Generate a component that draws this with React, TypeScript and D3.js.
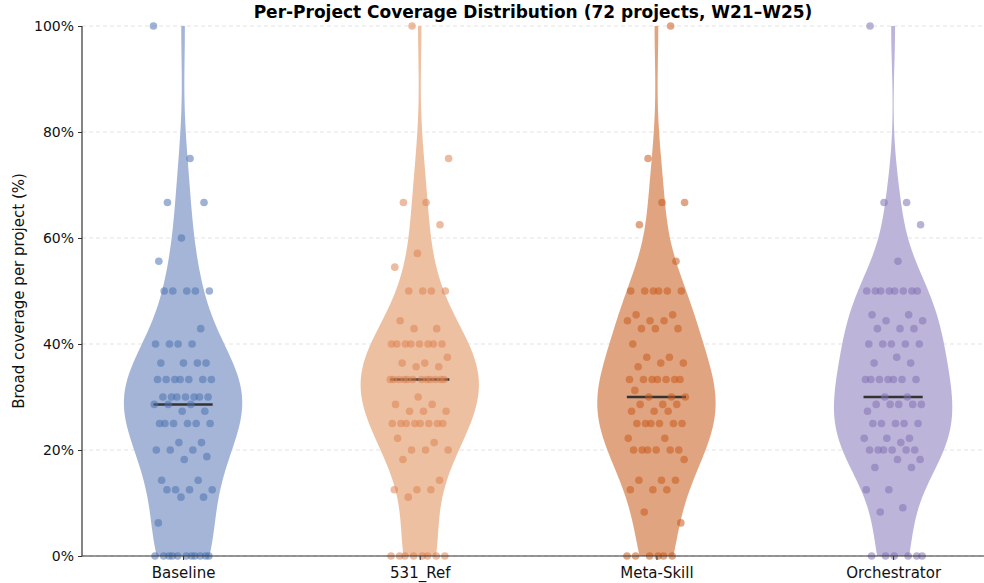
import { useRef, useEffect } from 'react';
import * as d3 from 'd3';

// per-project broad coverage (%)
const baseline = [
  100, 75, 66.7, 66.7, 60, 55.6, 50, 50, 50, 50, 50, 42.9, 40, 40, 40, 40,
  36.4, 36.4, 36.4, 36.4, 33.3, 33.3, 33.3, 33.3, 33.3, 33.3, 33.3,
  30, 30, 30, 30, 30, 30, 30, 28.6, 28.6, 28.6, 27.3, 27.3,
  25, 25, 25, 25, 25, 25, 21.4, 21.4, 20, 20, 20, 18.75, 18.2, 14.3, 14.3,
  12.5, 12.5, 12.5, 12.5, 11.1, 11.1, 6.25,
  0, 0, 0, 0, 0, 0, 0, 0, 0, 0, 0,
];
const ref531 = [
  100, 75, 66.7, 66.7, 62.5, 57.1, 54.5, 50, 50, 50, 50, 44.4, 42.9, 42.9,
  40, 40, 40, 40, 40, 40, 40, 40, 37.5, 36.4, 36.4, 35.7, 35.7,
  33.3, 33.3, 33.3, 33.3, 33.3, 33.3, 33.3, 33.3, 33.3, 33.3, 33.3, 33.3,
  30, 28.6, 28.6, 27.3, 27.3, 27.3, 25, 25, 25, 25, 25, 25, 25, 25,
  22.2, 21.4, 20, 20, 20, 18.2, 14.3, 12.5, 12.5, 12.5, 11.1,
  0, 0, 0, 0, 0, 0, 0, 0,
];
const metaSkill = [
  100, 75, 66.7, 66.7, 62.5, 55.6, 50, 50, 50, 50, 50, 50, 45.5, 45.5,
  44.4, 44.4, 44.4, 42.9, 42.9, 42.9, 40, 37.5, 37.5, 36.4, 36.4, 35.7,
  33.3, 33.3, 33.3, 33.3, 33.3, 33.3, 33.3, 31.25, 30, 30, 30,
  28.6, 28.6, 28.6, 27.3, 27.3, 27.3, 25, 25, 25, 25, 25, 25, 22.2, 22.2,
  20, 20, 20, 20, 20, 20, 18.2, 14.3, 14.3, 14.3, 12.5, 12.5, 12.5, 8.3, 6.25,
  0, 0, 0, 0, 0, 0,
];
const orchestrator = [
  100, 66.7, 66.7, 62.5, 55.6, 50, 50, 50, 50, 50, 50, 50, 50, 45.5, 45.5,
  44.4, 44.4, 42.9, 42.9, 42.9, 40, 40, 40, 40, 40, 37.5, 36.4, 36.4,
  33.3, 33.3, 33.3, 33.3, 33.3, 33.3, 33.3, 30, 30,
  28.6, 28.6, 28.6, 28.6, 28.6, 27.3, 25, 25, 25, 25, 25, 22.2, 22.2, 22.2,
  21.4, 20, 20, 20, 20, 20, 20, 18.2, 18.2, 16.7, 16.7, 12.5, 12.5, 9.1, 8.3,
  0, 0, 0, 0, 0, 0,
];

const categories = ['Baseline', '531_Ref', 'Meta-Skill', 'Orchestrator'];
const seriesValues = [baseline, ref531, metaSkill, orchestrator];
const yTicks = [0, 20, 40, 60, 80, 100];

const fillColors = ['#a4b5d7', '#eec0a2', '#e0a580', '#bdb4d9'];
const pointColors = ['#4c72b0', '#dd8452', '#c95b1d', '#8172b3'];

const W = 984;
const H = 583;
const margin = { top: 26, right: 0, bottom: 27, left: 82 };

// gaussian KDE with Scott's rule, like scipy
const kde = (vals: number[], pts: number[]) => {
  const n = vals.length;
  const mean = d3.mean(vals)!;
  const variance = d3.sum(vals, (v) => (v - mean) ** 2) / (n - 1);
  const bw = Math.sqrt(variance) * Math.pow(n, -1 / 5);
  return pts.map((p) => {
    let s = 0;
    for (const v of vals) s += Math.exp(-0.5 * ((p - v) / bw) ** 2);
    return s / (n * bw * Math.sqrt(2 * Math.PI));
  });
};

export default function App() {
  const svgRef = useRef<SVGSVGElement>(null);

  useEffect(() => {
    if (!svgRef.current) return;
    const svg = d3.select(svgRef.current);
    svg.selectAll('*').remove();

    const x = d3.scaleLinear().domain([-0.427, 3.384]).range([margin.left, W - margin.right]);
    const y = d3.scaleLinear().domain([0, 100]).range([H - margin.bottom, margin.top]);
    const font = 'DejaVu Sans, sans-serif';

    // grid
    svg.append('g')
      .selectAll('line')
      .data(yTicks)
      .join('line')
      .attr('x1', margin.left)
      .attr('x2', W - margin.right)
      .attr('y1', (d) => y(d))
      .attr('y2', (d) => y(d))
      .attr('stroke', '#dcdcdc')
      .attr('stroke-width', 0.8)
      .attr('stroke-dasharray', '4,3');

    seriesValues.forEach((vals, i) => {
      const lo = d3.min(vals)!;
      const hi = d3.max(vals)!;
      const grid = d3.range(100).map((k) => lo + ((hi - lo) * k) / 99);
      const dens = kde(vals, grid);
      const maxD = d3.max(dens)!;
      const half = dens.map((d) => (0.25 * d) / maxD);

      const area = d3.area<number>()
        .y((_, k) => y(grid[k]))
        .x0((_, k) => x(i - half[k]))
        .x1((_, k) => x(i + half[k]));

      svg.append('path')
        .attr('d', area(grid))
        .attr('fill', fillColors[i])
        .attr('stroke', 'none');

      // median
      const med = d3.median(vals)!;
      svg.append('line')
        .attr('x1', x(i - 0.125))
        .attr('x2', x(i + 0.125))
        .attr('y1', y(med))
        .attr('y2', y(med))
        .attr('stroke', '#333')
        .attr('stroke-width', 2.5);

      // jittered points
      svg.append('g')
        .selectAll('circle')
        .data(vals)
        .join('circle')
        .attr('cx', (_, k) => x(i + (((k * 0.618034 + 0.37 * i) % 1) - 0.5) * 0.25))
        .attr('cy', (d) => y(d))
        .attr('r', 3.8)
        .attr('fill', pointColors[i])
        .attr('fill-opacity', 0.55)
        .attr('stroke', 'none');
    });

    // axes
    const yAxis = svg.append('g')
      .attr('transform', `translate(${margin.left},0)`)
      .call(d3.axisLeft(y).tickValues(yTicks).tickFormat((d) => `${d}%`).tickSize(4).tickPadding(4));
    const xAxis = svg.append('g')
      .attr('transform', `translate(0,${H - margin.bottom})`)
      .call(
        d3.axisBottom(x)
          .tickValues(categories.map((_, i) => i))
          .tickFormat((d) => categories[d as number])
          .tickSize(4)
          .tickPadding(7),
      );
    for (const ax of [yAxis, xAxis]) {
      ax.select('.domain').attr('stroke', '#333').attr('stroke-width', 1.2);
      ax.selectAll('.tick line').attr('stroke', '#333');
      ax.selectAll('.tick text')
        .attr('fill', '#111')
        .attr('font-family', font)
        .attr('font-size', 14);
    }
    xAxis.selectAll('.tick text').attr('font-size', 15);
    yAxis.select('.domain').attr('d', `M0,${H - margin.bottom}V${margin.top}`);
    xAxis.select('.domain').attr('d', `M${margin.left},0H${W}`);

    svg.append('text')
      .attr('transform', `translate(24,${(margin.top + H - margin.bottom) / 2}) rotate(-90)`)
      .attr('text-anchor', 'middle')
      .attr('font-family', font)
      .attr('font-size', 15)
      .attr('fill', '#111')
      .text('Broad coverage per project (%)');

    svg.append('text')
      .attr('x', (margin.left + W) / 2)
      .attr('y', 18)
      .attr('text-anchor', 'middle')
      .attr('font-family', font)
      .attr('font-size', 17)
      .attr('font-weight', 'bold')
      .attr('fill', '#000')
      .text('Per-Project Coverage Distribution (72 projects, W21–W25)');
  }, []);

  return (
    <svg
      ref={svgRef}
      width={W}
      height={H}
      style={{ position: 'absolute', left: 0, top: 0, background: '#fff' }}
    />
  );
}
